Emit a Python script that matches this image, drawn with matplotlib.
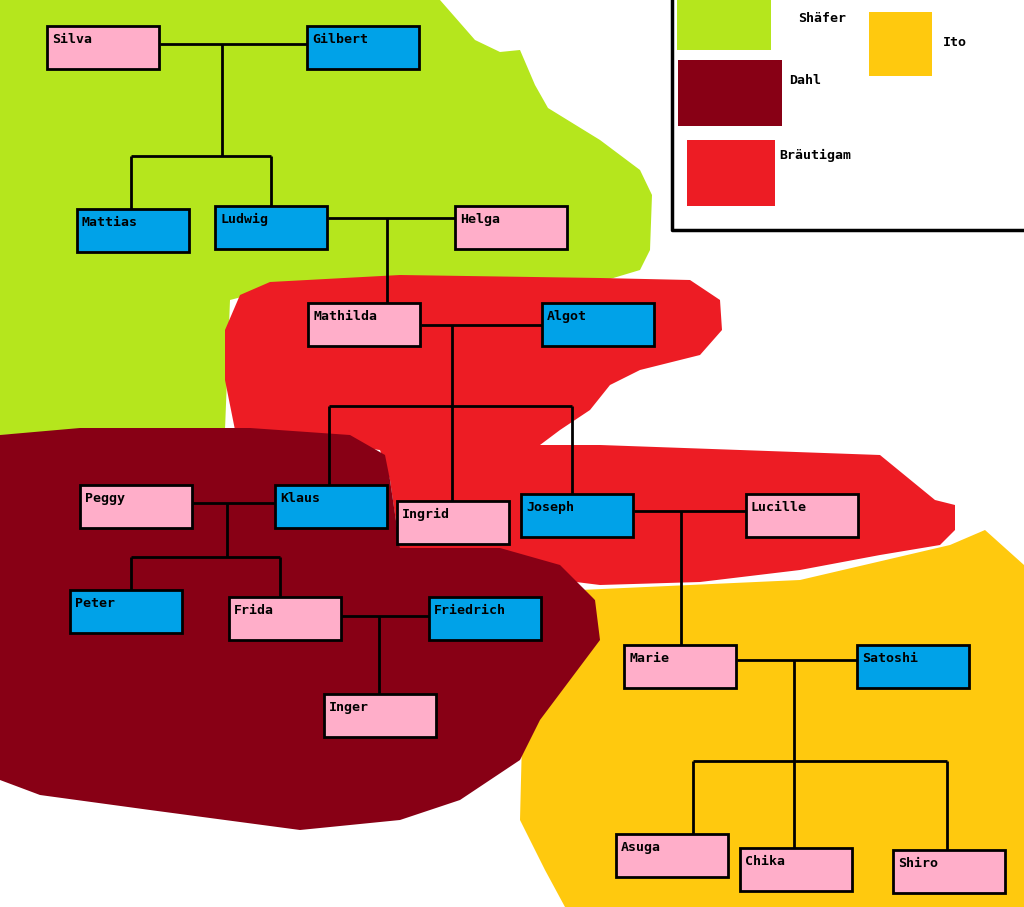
import matplotlib
matplotlib.use("Agg")
import matplotlib.pyplot as plt
from matplotlib.patches import Polygon, Rectangle

names = ["Silva","Gilbert","Mattias","Ludwig","Helga","Mathilda","Algot","Peggy","Klaus","Ingrid",
         "Joseph","Lucille","Peter","Frida","Friedrich","Inger","Marie","Satoshi","Asuga","Chika","Shiro"]
sex = ["f","m","m","m","f","f","m","f","m","f","m","f","m","f","m","f","f","m","f","f","f"]
box_x = [47,307,77,215,455,308,542,80,275,397,521,746,70,229,429,324,624,857,616,740,893]
box_y = [26,26,209,206,206,303,303,485,485,501,494,494,590,597,597,694,645,645,834,848,850]
families = ["Shäfer","Dahl","Bräutigam","Ito"]

BW, BH = 112, 43
fill = {"f": "#ffaec9", "m": "#00a2e8"}

fig = plt.figure(figsize=(10.24, 9.07), dpi=100)
ax = fig.add_axes([0, 0, 1, 1])
ax.set_xlim(0, 1024); ax.set_ylim(907, 0); ax.axis("off")

green = [(0,0),(440,0),(475,40),(500,52),(520,50),(535,85),(548,108),(600,140),(640,170),(652,195),
         (650,250),(640,270),(600,282),(300,282),(230,300),(225,430),(0,435)]
yellow = [(580,590),(800,580),(950,545),(985,530),(1024,565),(1024,907),(565,907),(545,870),(520,820),
          (522,740),(560,680),(585,640),(595,600)]
red = [(240,295),(270,282),(400,275),(600,278),(690,280),(720,300),(722,330),(700,355),(640,370),(610,385),
       (590,410),(560,430),(540,445),(600,445),(880,455),(935,500),(955,505),(955,530),(940,545),(880,555),
       (800,570),(700,582),(600,585),(520,575),(480,560),(400,550),(390,480),(380,450),(300,440),(235,430),
       (225,380),(225,330)]
dark = [(0,435),(80,428),(250,428),(350,435),(385,455),(390,480),(400,548),(500,548),(560,565),(595,600),
        (600,640),(570,680),(540,720),(520,760),(460,800),(400,820),(300,830),(150,810),(40,795),(0,780)]
for poly, c in [(green,"#b5e61d"),(yellow,"#ffc90e"),(red,"#ed1c24"),(dark,"#880015")]:
    ax.add_patch(Polygon(poly, closed=True, fc=c, ec="none", zorder=1))

segs = [((160,44),(307,44)),((222,44),(222,156)),((131,156),(271,156)),((131,156),(131,209)),((271,156),(271,206)),
        ((328,218),(455,218)),((387,218),(387,303)),
        ((421,325),(542,325)),((452,325),(452,501)),((329,406),(572,406)),((329,406),(329,485)),((572,406),(572,494)),
        ((192,503),(275,503)),((227,503),(227,557)),((131,557),(280,557)),((131,557),(131,590)),((280,557),(280,597)),
        ((341,616),(429,616)),((379,616),(379,694)),
        ((634,511),(746,511)),((681,511),(681,645)),
        ((737,660),(857,660)),((794,660),(794,848)),((693,761),(947,761)),((693,761),(693,834)),((947,761),(947,850))]
for (x0,y0),(x1,y1) in segs:
    ax.plot([x0,x1],[y0,y1], color="black", lw=2, zorder=2, solid_capstyle="butt")

for n, s, x, y in zip(names, sex, box_x, box_y):
    ax.add_patch(Rectangle((x,y), BW, BH, fc=fill[s], ec="black", lw=2, zorder=3))
    ax.text(x+5, y+7, n, fontfamily="DejaVu Sans Mono", fontweight="bold", fontsize=9.5,
            va="top", ha="left", zorder=4)

# legend
ax.plot([672,672,1024],[0,230,230], color="black", lw=2.5, zorder=5)
sw = [((677,0),94,50,"#b5e61d",(798,18)),((678,60),104,66,"#880015",(789,81)),
      ((687,140),88,66,"#ed1c24",(779,155)),((869,12),63,64,"#ffc90e",(943,43))]
for (xy,w,h,c,tp), lab in zip(sw, families):
    ax.add_patch(Rectangle(xy, w, h, fc=c, ec="none", zorder=5))
    ax.text(tp[0], tp[1], lab, fontfamily="DejaVu Sans Mono", fontweight="bold", fontsize=9.5,
            va="center", ha="left", zorder=5)

fig.savefig("out.png", dpi=100)
